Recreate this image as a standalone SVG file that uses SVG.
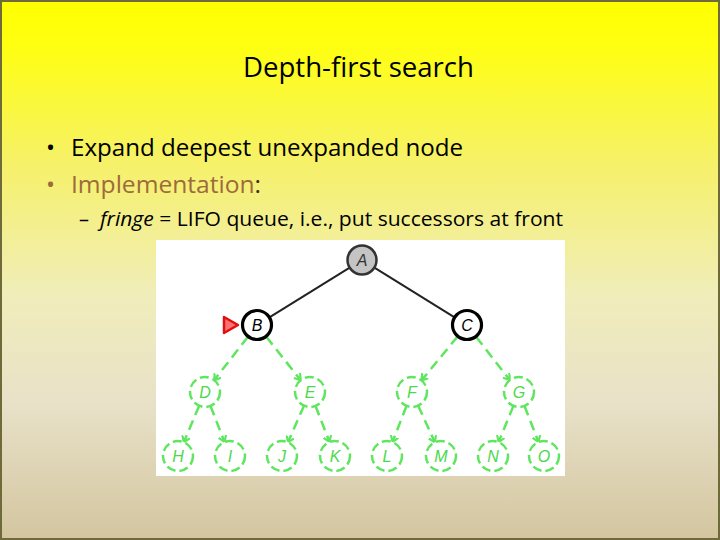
<svg xmlns="http://www.w3.org/2000/svg" width="720" height="540" viewBox="0 0 720 540">
<defs>
<linearGradient id="bg" x1="0" y1="0" x2="0" y2="1">
<stop offset="0" stop-color="#ffff00"/>
<stop offset="0.08" stop-color="#ffff10"/>
<stop offset="0.3" stop-color="#f6f168"/>
<stop offset="0.55" stop-color="#f0edbb"/>
<stop offset="0.75" stop-color="#e8e1c8"/>
<stop offset="1" stop-color="#d3c59f"/>
</linearGradient>
<marker id="ga" markerWidth="10" markerHeight="10" refX="6" refY="4.5" orient="auto" markerUnits="userSpaceOnUse">
<path d="M0,0.5 L6,4.5 L0,8.5" fill="none" stroke="#5ee65e" stroke-width="2.2"/>
</marker>
<style>
.t{font-family:"Open Sans","Noto Sans","Liberation Sans",sans-serif;}
.lbl{font-family:"Liberation Sans",Arial,sans-serif;font-style:italic;font-size:16px;text-anchor:middle;}
.ge{stroke:#5ee65e;stroke-width:2.5;stroke-dasharray:10,6;fill:none;marker-end:url(#ga);}
.be{stroke:#222;stroke-width:2;fill:none;}
.gn{fill:#fff;stroke:#5ee65e;stroke-width:2.5;stroke-dasharray:9,4;}
.gl{fill:#4cd84c;}
.bn{fill:#fff;stroke:#000;stroke-width:3.2;}
</style>
</defs>
<rect x="0" y="0" width="720" height="540" fill="url(#bg)"/>
<rect x="1" y="1" width="718" height="538" fill="none" stroke="#6e6a3a" stroke-width="2"/>

<text class="t" x="243" y="77" font-size="27" fill="#000" textLength="231" lengthAdjust="spacingAndGlyphs">Depth-first search</text>

<text class="t" x="46" y="156" font-size="24" fill="#000">•</text>
<text class="t" x="71" y="156" font-size="24" fill="#000" textLength="392" lengthAdjust="spacingAndGlyphs">Expand deepest unexpanded node</text>
<text class="t" x="46" y="193" font-size="24" fill="#9c6b3c">•</text>
<text class="t" x="71" y="193" font-size="24" textLength="190" lengthAdjust="spacingAndGlyphs"><tspan fill="#9c6b3c">Implementation</tspan><tspan fill="#3a3020">:</tspan></text>
<text class="t" x="79" y="226" font-size="20" fill="#000">–</text>
<text class="t" x="100" y="226" font-size="20" fill="#000" textLength="463" lengthAdjust="spacingAndGlyphs"><tspan font-style="italic">fringe</tspan> = LIFO queue, i.e., put successors at front</text>

<rect x="156" y="240" width="409" height="236" fill="#fff"/>

<g id="connectors">
<line class="be" x1="349.3" y1="267.9" x2="269.8" y2="317.1"/>
<line class="be" x1="374.8" y1="267.9" x2="454.2" y2="317.1"/>
<line class="ge" x1="247.8" y1="336.9" x2="214.2" y2="380.1"/>
<line class="ge" x1="266.3" y1="336.8" x2="300.7" y2="380.2"/>
<line class="ge" x1="457.5" y1="336.6" x2="421.5" y2="380.4"/>
<line class="ge" x1="476.2" y1="336.9" x2="509.8" y2="380.1"/>
<line class="ge" x1="199.2" y1="405.8" x2="183.8" y2="442.2"/>
<line class="ge" x1="210.5" y1="406" x2="224.5" y2="442"/>
<line class="ge" x1="304" y1="405.7" x2="288" y2="442.3"/>
<line class="ge" x1="315.5" y1="406" x2="329.5" y2="442"/>
<line class="ge" x1="406.5" y1="406" x2="392.5" y2="442"/>
<line class="ge" x1="418.2" y1="405.7" x2="434.8" y2="442.3"/>
<line class="ge" x1="513.4" y1="405.9" x2="498.6" y2="442.1"/>
<line class="ge" x1="524.5" y1="406" x2="538.5" y2="442"/>
</g>

<g id="nA"><circle cx="362" cy="260" r="14.5" fill="#c4c4c4" stroke="#333" stroke-width="2.5"/><text class="lbl" x="362" y="266" fill="#333">A</text></g>
<g id="nB"><circle class="bn" cx="257" cy="325" r="14.5"/><text class="lbl" x="257" y="331" fill="#000">B</text></g>
<g id="nC"><circle class="bn" cx="467" cy="325" r="14.5"/><text class="lbl" x="467" y="331" fill="#000">C</text></g>
<g id="nD"><circle class="gn" cx="205" cy="392" r="15"/><text class="lbl gl" x="205" y="398">D</text></g>
<g id="nE"><circle class="gn" cx="310" cy="392" r="15"/><text class="lbl gl" x="310" y="398">E</text></g>
<g id="nF"><circle class="gn" cx="412" cy="392" r="15"/><text class="lbl gl" x="412" y="398">F</text></g>
<g id="nG"><circle class="gn" cx="519" cy="392" r="15"/><text class="lbl gl" x="519" y="398">G</text></g>
<g id="nH"><circle class="gn" cx="178" cy="456" r="15"/><text class="lbl gl" x="178" y="462">H</text></g>
<g id="nI"><circle class="gn" cx="230" cy="456" r="15"/><text class="lbl gl" x="230" y="462">I</text></g>
<g id="nJ"><circle class="gn" cx="282" cy="456" r="15"/><text class="lbl gl" x="282" y="462">J</text></g>
<g id="nK"><circle class="gn" cx="335" cy="456" r="15"/><text class="lbl gl" x="335" y="462">K</text></g>
<g id="nL"><circle class="gn" cx="387" cy="456" r="15"/><text class="lbl gl" x="387" y="462">L</text></g>
<g id="nM"><circle class="gn" cx="441" cy="456" r="15"/><text class="lbl gl" x="441" y="462">M</text></g>
<g id="nN"><circle class="gn" cx="493" cy="456" r="15"/><text class="lbl gl" x="493" y="462">N</text></g>
<g id="nO"><circle class="gn" cx="544" cy="456" r="15"/><text class="lbl gl" x="544" y="462">O</text></g>

<g id="pointer"><polygon points="224,317 238,325 224,333" fill="#ff7070" stroke="#e01010" stroke-width="2.5" stroke-linejoin="round"/></g>
</svg>
